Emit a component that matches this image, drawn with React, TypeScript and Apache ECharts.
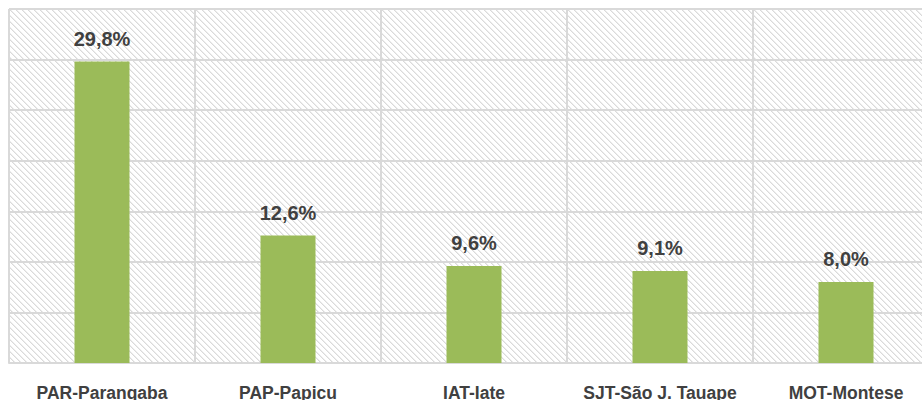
import React, { useEffect, useRef } from "react";
import * as echarts from "echarts";

const categories = ["PAR-Parangaba", "PAP-Papicu", "IAT-Iate", "SJT-São J. Tauape", "MOT-Montese"];
const values = [29.8, 12.6, 9.6, 9.1, 8.0];
const yMax = 35;
const yInterval = 5;

function makeHatch(): HTMLCanvasElement {
  const size = 6;
  const c = document.createElement("canvas");
  c.width = size;
  c.height = size;
  const ctx = c.getContext("2d")!;
  ctx.fillStyle = "#ffffff";
  ctx.fillRect(0, 0, size, size);
  for (let i = 0; i < size; i++) {
    ctx.fillStyle = "#dadada";
    ctx.fillRect(i, i, 1, 1);
    ctx.fillStyle = "#ededed";
    ctx.fillRect((i + 1) % size, i, 1, 1);
  }
  return c;
}

export default function App() {
  const ref = useRef<HTMLDivElement>(null);
  useEffect(() => {
    if (!ref.current) return;
    const chart = echarts.init(ref.current, undefined, { renderer: "svg" });
    const font = "'Liberation Sans Narrow', 'Arial Narrow', 'Liberation Sans', Arial, sans-serif";
    chart.setOption({
      animation: false,
      backgroundColor: "#ffffff",
      grid: {
        left: 9,
        right: -17,
        top: 9,
        bottom: 37,
        outerBoundsMode: "none",
        containLabel: false,
        show: true,
        borderWidth: 0,
        backgroundColor: {
          image: makeHatch(),
          repeat: "repeat",
          imageWidth: 6,
          imageHeight: 6,
        } as any,
      } as any,
      xAxis: {
        type: "category",
        data: categories,
        axisLine: { show: true, lineStyle: { color: "#d9d9d9", width: 2 } },
        axisTick: { show: false },
        splitLine: { show: true, lineStyle: { color: "#d9d9d9", width: 2 } },
        axisLabel: {
          color: "#404040",
          fontFamily: font,
          fontWeight: "bold",
          fontSize: 17.5,
          margin: 21,
          interval: 0,
        },
      },
      yAxis: {
        type: "value",
        min: 0,
        max: yMax,
        interval: yInterval,
        axisLabel: { show: false },
        axisLine: { show: false },
        axisTick: { show: false },
        splitLine: { show: true, lineStyle: { color: "#d9d9d9", width: 2 } },
      },
      series: [
        {
          type: "bar",
          data: values,
          barWidth: 55,
          itemStyle: { color: "#9bbb59" },
          label: {
            show: true,
            position: "top",
            distance: 13,
            color: "#404040",
            fontFamily: font,
            fontWeight: "bold",
            fontSize: 20,
            formatter: (p: any) => p.value.toFixed(1).replace(".", ",") + "%",
          },
        },
      ],
    });
    return () => chart.dispose();
  }, []);
  return (
    <div
      ref={ref}
      style={{ position: "absolute", left: 0, top: 0, width: 922, height: 400 }}
    />
  );
}
